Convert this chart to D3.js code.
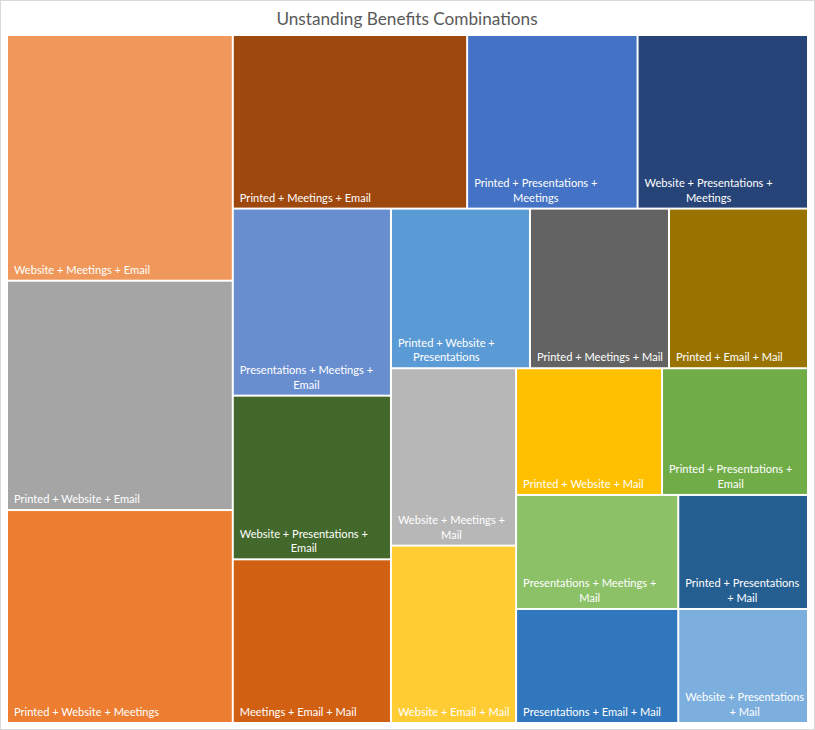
<!DOCTYPE html>
<html>
<head>
<meta charset="utf-8">
<script src="https://d3js.org/d3.v7.min.js"></script>
<style>
  body { margin: 0; background: #fff; }
  .title { font: 17.2px Lato, sans-serif; fill: #595959; }
  .label { font: 11.1px Lato, sans-serif; fill: #fff; }
</style>
</head>
<body>
<svg width="815" height="730" id="chart"></svg>
<script>
  // combinations, largest first (same order Excel uses)
  var combos = [
    "Website + Meetings + Email",
    "Printed + Website + Email",
    "Printed + Website + Meetings",
    "Printed + Meetings + Email",
    "Printed + Presentations + Meetings",
    "Website + Presentations + Meetings",
    "Presentations + Meetings + Email",
    "Website + Presentations + Email",
    "Meetings + Email + Mail",
    "Printed + Website + Presentations",
    "Printed + Meetings + Mail",
    "Printed + Email + Mail",
    "Website + Meetings + Mail",
    "Website + Email + Mail",
    "Printed + Website + Mail",
    "Printed + Presentations + Email",
    "Presentations + Meetings + Mail",
    "Presentations + Email + Mail",
    "Printed + Presentations + Mail",
    "Website + Presentations + Mail"
  ]
  var counts = [15, 14, 13, 11, 8, 8, 8, 7, 7, 6, 6, 6, 6, 6, 5, 5, 5, 5, 4, 4]
  var colors = [
    "#F0985B", "#A5A5A5", "#ED7D31", "#9E480E", "#4472C4",
    "#264478", "#698ED0", "#43682B", "#D26012", "#5B9BD5",
    "#636363", "#997300", "#B7B7B7", "#FFCD33", "#FFC000",
    "#70AD47", "#8CC168", "#3077BE", "#255E91", "#7CAFDD"
  ]

  var svg = d3.select('#chart')
  var width = +svg.attr('width')
  var height = +svg.attr('height')

  // light frame round the chart
  svg.append('rect')
    .attr('x', 0.5).attr('y', 0.5)
    .attr('width', width - 1).attr('height', height - 1)
    .attr('fill', 'none')
    .attr('stroke', '#D9D9D9')

  svg.append('text')
    .attr('class', 'title')
    .attr('x', 407)
    .attr('y', 25)
    .attr('text-anchor', 'middle')
    .text('Unstanding Benefits Combinations')

  var root = d3.hierarchy({
    children: combos.map(function(c, i) { return { name: c, value: counts[i], color: colors[i] } })
  }).sum(function(d) { return d.value || 0 })

  d3.treemap()
    .tile(d3.treemapSquarify.ratio(1))
    .size([799, 686])
    .paddingInner(2)(root)

  var plot = svg.append('g').attr('transform', 'translate(8,36)')

  var cell = plot.selectAll('g')
    .data(root.leaves())
    .enter().append('g')
    .attr('transform', function(d) { return 'translate(' + d.x0 + ',' + d.y0 + ')' })

  cell.append('rect')
    .attr('width', function(d) { return d.x1 - d.x0 })
    .attr('height', function(d) { return d.y1 - d.y0 })
    .attr('fill', function(d) { return d.data.color })

  // labels sit bottom-left, wrapped on spaces, lines centred on each other
  var lineH = 14.5
  cell.each(function(d) {
    var g = d3.select(this)
    var w = d.x1 - d.x0, h = d.y1 - d.y0
    var maxW = w - 8
    var probe = g.append('text').attr('class', 'label')
    var words = d.data.name.split(' ')
    var lines = [], cur = ''
    words.forEach(function(word) {
      var test = cur ? cur + ' ' + word : word
      probe.text(test)
      if (cur && probe.node().getComputedTextLength() > maxW) {
        lines.push(cur)
        cur = word
      } else {
        cur = test
      }
    })
    lines.push(cur)
    var widths = lines.map(function(l) { probe.text(l); return probe.node().getComputedTextLength() })
    probe.remove()
    var blockW = d3.max(widths)
    var text = g.append('text')
      .attr('class', 'label')
      .attr('text-anchor', 'middle')
    lines.forEach(function(l, i) {
      text.append('tspan')
        .attr('x', 6 + blockW / 2)
        .attr('y', h - 6 - (lines.length - 1 - i) * lineH)
        .text(l)
    })
  })
</script>
</body>
</html>
